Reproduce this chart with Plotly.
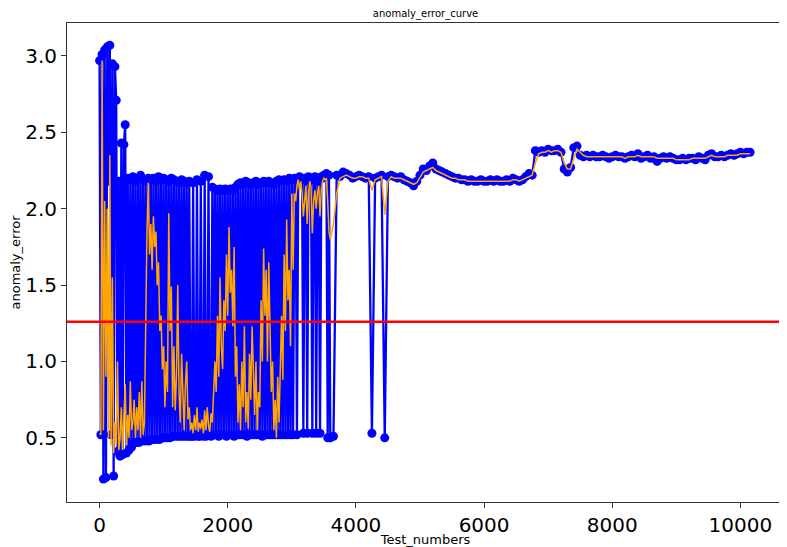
import plotly.graph_objects as go

# Test numbers (sample indices): dense early part, coarser later part
x_early = list(range(0, 3601, 20))
x_late = list(range(3650, 10151, 50))

blue_early = [
    2.97, 0.52, 3.01, 0.23, 3.04, 0.24, 3.06, 2.18, 3.07, 0.52,
    2.95, 0.25, 2.93, 2.71, 0.41, 2.18, 0.38, 2.43, 0.39, 2.42,
    2.55, 0.40, 2.20, 0.42, 2.19, 0.44, 2.21, 0.47, 2.18, 0.47,
    2.20, 0.47, 2.22, 0.48, 2.19, 0.48, 2.18, 0.48, 2.20, 0.48,
    2.19, 0.49, 2.20, 0.49, 2.18, 0.49, 2.21, 0.49, 2.19, 0.50,
    2.20, 0.50, 2.19, 0.50, 2.18, 0.50, 2.20, 0.51, 2.19, 0.51,
    2.18, 0.51, 2.17, 0.51, 2.19, 0.51, 2.18, 0.51, 2.17, 0.51,
    2.18, 0.51, 0.51, 2.17, 0.51, 0.52, 2.19, 0.51, 0.51, 2.18,
    0.52, 0.51, 2.22, 0.51, 0.52, 2.21, 0.52, 0.51, 2.14, 0.52,
    2.13, 0.52, 2.12, 0.51, 2.13, 0.52, 2.12, 0.52, 2.13, 0.51,
    2.12, 0.52, 2.13, 0.52, 2.12, 0.51, 2.14, 0.52, 2.16, 0.52,
    2.17, 0.52, 2.16, 0.52, 2.18, 0.51, 2.17, 0.52, 2.16, 0.52,
    2.17, 0.52, 2.18, 0.52, 2.16, 0.52, 2.17, 0.51, 2.18, 0.52,
    2.17, 0.52, 2.18, 0.52, 2.17, 0.52, 2.16, 0.52, 2.18, 0.52,
    2.19, 0.52, 2.18, 0.52, 2.19, 0.52, 2.18, 0.52, 2.20, 0.52,
    2.19, 0.52, 2.20, 2.19, 0.52, 2.20, 2.21, 2.20, 2.19, 0.53,
    2.20, 2.19, 0.53, 2.21, 2.20, 2.19, 0.53, 2.20, 2.21, 0.53,
    2.20, 2.18, 0.53, 2.21, 2.20, 2.22, 2.21, 2.23, 0.50, 2.22,
    0.50,
]
blue_late = [
    0.51, 2.22, 2.21, 2.24, 2.23, 2.22, 2.20, 2.21, 2.22, 2.21,
    2.20, 2.21, 0.53, 2.20, 2.21, 2.22, 0.50, 2.21, 2.22, 2.21,
    2.20, 2.21, 2.19, 2.18, 2.17, 2.15, 2.18, 2.22, 2.26, 2.25,
    2.28, 2.30, 2.26, 2.25, 2.24, 2.23, 2.22, 2.21, 2.20, 2.20,
    2.19, 2.19, 2.18, 2.19, 2.18, 2.18, 2.19, 2.18, 2.18, 2.19,
    2.18, 2.19, 2.18, 2.18, 2.19, 2.18, 2.20, 2.19, 2.18, 2.19,
    2.21, 2.23, 2.22, 2.38, 2.37, 2.38, 2.37, 2.39, 2.38, 2.38,
    2.39, 2.37, 2.26, 2.24, 2.27, 2.40, 2.41, 2.35, 2.34, 2.35,
    2.34, 2.35, 2.34, 2.34, 2.35, 2.34, 2.33, 2.34, 2.35, 2.34,
    2.34, 2.33, 2.34, 2.35, 2.34, 2.36, 2.33, 2.34, 2.35, 2.33,
    2.34, 2.31, 2.33, 2.34, 2.33, 2.34, 2.33, 2.32, 2.32, 2.33,
    2.32, 2.33, 2.33, 2.32, 2.34, 2.33, 2.32, 2.35, 2.36, 2.34,
    2.34, 2.35, 2.34, 2.35, 2.36, 2.35, 2.36, 2.37, 2.36, 2.37,
    2.37,
]

orange_early = [
    0.53, 0.52, 2.97, 0.55, 2.05, 0.90, 2.00, 0.50, 2.35, 0.45,
    1.55, 0.40, 0.60, 0.45, 1.00, 0.42, 0.50, 0.70, 0.42, 0.60,
    0.85, 0.45, 0.65, 0.50, 0.87, 0.55, 0.60, 0.75, 0.50, 0.70,
    0.55, 0.80, 0.50, 0.87, 0.52, 0.60, 1.45, 1.85, 2.17, 1.70,
    1.90, 1.60, 1.95, 1.75, 1.85, 1.50, 1.65, 1.20, 1.30, 0.95,
    1.10, 0.70, 1.00, 0.80, 1.97, 1.20, 1.49, 0.70, 1.10, 0.68,
    0.90, 1.50, 0.80, 0.60, 1.05, 0.70, 0.55, 0.85, 1.00, 0.62,
    0.70, 0.55, 0.60, 0.53, 0.65, 0.55, 0.70, 0.54, 0.60, 0.56,
    0.62, 0.53, 0.68, 0.55, 0.70, 0.58, 0.54, 0.66, 0.60, 0.80,
    1.00, 0.80, 1.30, 0.90, 1.55, 1.10, 0.95, 1.40, 1.20, 1.70,
    1.30, 1.88, 1.45, 1.60, 1.23, 1.75, 0.90, 1.10, 0.60, 0.85,
    0.55, 1.00, 0.70, 1.23, 0.60, 0.80, 0.56, 1.05, 0.75, 1.23,
    0.90, 0.65, 1.00, 0.55, 0.80, 0.70, 1.40, 1.00, 1.74, 1.30,
    1.60, 1.00, 1.65, 1.20, 0.80, 1.00, 0.55, 0.75, 0.50, 0.90,
    0.60, 0.95, 1.30, 0.88, 1.70, 1.20, 1.93, 1.40, 1.60, 1.10,
    2.10, 1.60, 2.10, 2.05, 2.15, 2.19, 2.12, 2.18, 2.10, 1.95,
    2.06, 2.15, 1.90, 2.10, 2.18, 2.14, 1.84, 2.05, 2.12, 2.00,
    2.10, 2.15, 1.95, 2.12, 2.18, 2.20, 2.19, 2.20, 2.05, 1.85,
    1.80,
]
orange_late = [
    1.90, 2.10, 2.20, 2.21, 2.22, 2.21, 2.20, 2.20, 2.21, 2.21,
    2.20, 2.20, 2.12, 2.19, 2.20, 2.21, 1.96, 2.18, 2.21, 2.20,
    2.20, 2.20, 2.19, 2.18, 2.17, 2.16, 2.17, 2.21, 2.24, 2.25,
    2.26, 2.27, 2.25, 2.24, 2.23, 2.22, 2.21, 2.20, 2.20, 2.19,
    2.19, 2.19, 2.18, 2.18, 2.18, 2.18, 2.18, 2.18, 2.18, 2.18,
    2.18, 2.18, 2.18, 2.18, 2.18, 2.18, 2.19, 2.19, 2.18, 2.19,
    2.20, 2.21, 2.22, 2.30, 2.36, 2.37, 2.37, 2.38, 2.37, 2.38,
    2.38, 2.37, 2.30, 2.26, 2.26, 2.33, 2.39, 2.37, 2.35, 2.34,
    2.34, 2.34, 2.34, 2.34, 2.34, 2.34, 2.34, 2.34, 2.34, 2.34,
    2.34, 2.33, 2.34, 2.34, 2.34, 2.35, 2.34, 2.34, 2.34, 2.34,
    2.34, 2.33, 2.33, 2.33, 2.33, 2.33, 2.33, 2.32, 2.32, 2.32,
    2.32, 2.32, 2.33, 2.33, 2.33, 2.33, 2.33, 2.34, 2.35, 2.34,
    2.34, 2.34, 2.34, 2.35, 2.35, 2.35, 2.35, 2.36, 2.36, 2.36,
    2.36,
]

threshold = 1.26

x_vals = x_early + x_late
blue_vals = blue_early + blue_late
orange_vals = orange_early + orange_late

x_ticks = [0, 2000, 4000, 6000, 8000, 10000]
y_ticks = [0.5, 1.0, 1.5, 2.0, 2.5, 3.0]

fig = go.Figure()
fig.add_trace(go.Scatter(
    x=x_vals, y=blue_vals, mode="lines+markers",
    line=dict(color="blue", width=2.3),
    marker=dict(color="blue", size=9, line=dict(width=0)),
    showlegend=False,
))
fig.add_trace(go.Scatter(
    x=x_vals, y=orange_vals, mode="lines",
    line=dict(color="orange", width=1.5),
    showlegend=False,
))
fig.add_hline(y=threshold, line=dict(color="red", width=2.5))

# the page body adds an 8px offset, so the figure is sized to fit the window
fig.update_layout(
    width=779, height=539,
    margin=dict(l=59, r=3, t=15, b=45),
    paper_bgcolor="white", plot_bgcolor="white",
    font=dict(family="DejaVu Sans", color="black"),
    title=dict(text="anomaly_error_curve", x=0.536, xanchor="center",
               y=0.99, yanchor="middle", font=dict(size=10)),
)
fig.update_xaxes(
    range=[-508, 10680], tickvals=x_ticks, ticktext=[str(v) for v in x_ticks],
    showgrid=False, zeroline=False, showline=True, linecolor="#333", linewidth=1,
    mirror=True, ticks="outside", ticklen=5, tickcolor="#333",
    tickfont=dict(size=20), automargin=False,
    title=dict(text="Test_numbers", font=dict(size=13), standoff=1),
)
fig.update_yaxes(
    range=[0.08, 3.216], tickvals=y_ticks, ticktext=[f"{v:.1f}" for v in y_ticks],
    showgrid=False, zeroline=False, showline=True, linecolor="#333", linewidth=1,
    mirror=True, ticks="outside", ticklen=5, tickcolor="#333",
    tickfont=dict(size=20), automargin=False,
    title=dict(text="anomaly_error", font=dict(size=13), standoff=3),
)

fig.write_html("out.html")
